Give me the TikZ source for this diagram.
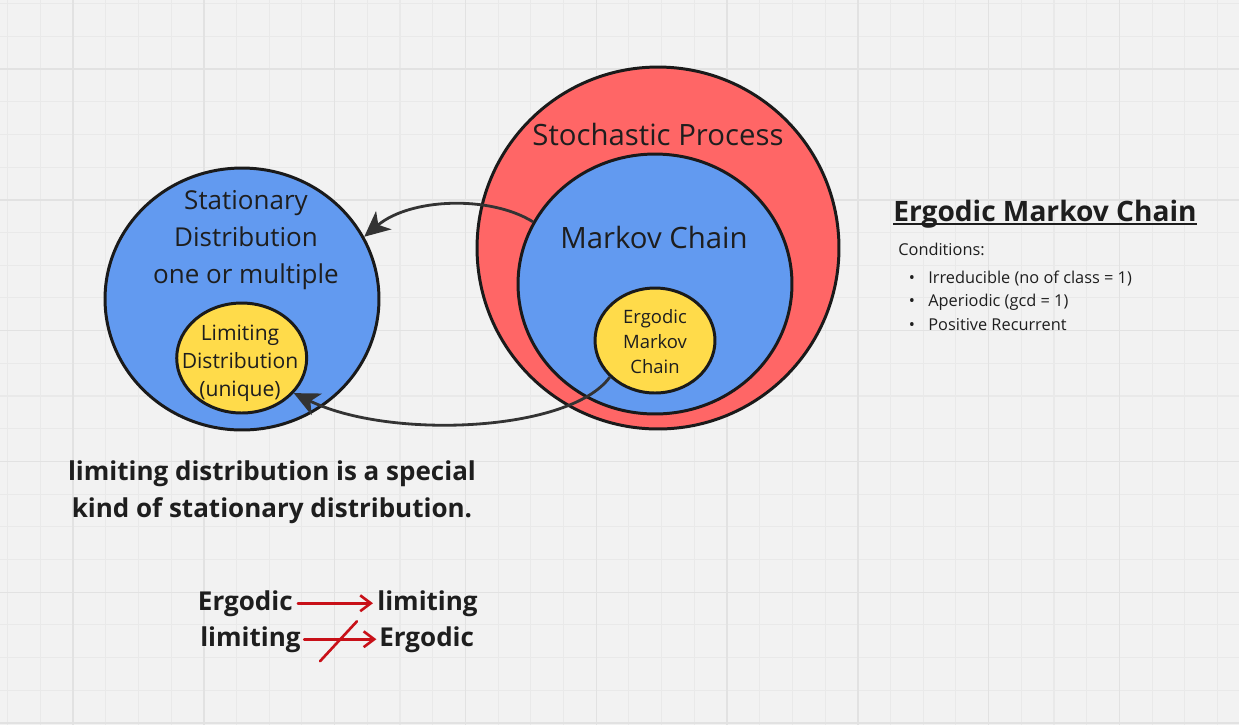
\documentclass[tikz,border=0pt]{standalone}
\usepackage{fontspec}
\setmainfont{Open Sans}
\usepackage{tikz}
\usetikzlibrary{arrows.meta, shapes.geometric, calc}
\definecolor{board-bg}{RGB}{242,242,242}
\definecolor{board-minor}{RGB}{233,233,233}
\definecolor{board-major}{RGB}{226,226,226}
\definecolor{set-red}{RGB}{255,102,102}
\definecolor{set-blue}{RGB}{98,154,240}
\definecolor{set-yellow}{RGB}{255,219,74}
\definecolor{set-line}{RGB}{26,26,26}
\definecolor{ink}{RGB}{30,30,30}
\definecolor{link-gray}{RGB}{51,51,51}
\definecolor{pen-red}{RGB}{200,16,24}

\begin{document}
\begin{tikzpicture}[x=0.02cm, y=-0.02cm, text=ink,
  setshape/.style={ellipse, draw=set-line, line width=1.7pt, inner sep=0pt},
  link/.style={draw=link-gray, line width=1.6pt,
    -{Stealth[length=14.5pt, width=13.5pt, inset=4pt]}},
  pen/.style={draw=pen-red, line width=1.5pt, line cap=round},
  bigtext/.style={font=\fontsize{16.7}{20}\selectfont},
  midtext/.style={font=\fontsize{14.8}{21}\selectfont, align=center},
  smalltext/.style={font=\fontsize{12}{15.9}\selectfont, align=center},
  tinytext/.style={font=\fontsize{10.5}{14.2}\selectfont, align=center},
  boldtext/.style={font=\fontsize{14.8}{21}\selectfont\bfseries, align=center},
  condtext/.style={font=\fontsize{9.3}{12}\selectfont, inner sep=0pt}]
  \useasboundingbox (0,0) rectangle (1239,725);

  % Fond quadrillé
  \fill[board-bg] (0,0) rectangle (1239,725);
  \foreach \k in {0,...,37}{
    \draw[board-minor, line width=0.6pt] ({7.6+32.7*\k},0) -- ++(0,725);
  }
  \foreach \k in {0,...,22}{
    \draw[board-minor, line width=0.6pt] (0,{3.6+32.7*\k}) -- ++(1239,0);
  }
  \foreach \k in {0,...,9}{
    \draw[board-major, line width=0.8pt] ({73+130.8*\k},0) -- ++(0,725);
  }
  \foreach \k in {0,...,5}{
    \draw[board-major, line width=0.8pt] (0,{69+130.8*\k}) -- ++(1239,0);
  }

  % Ensembles de droite
  \node[setshape, fill=set-red, minimum width=7.24cm, minimum height=7.24cm]
    (stoch) at (658,248) {};
  \node[setshape, fill=set-blue, minimum width=5.48cm, minimum height=5.2cm]
    (markov) at (655,284) {};
  \node[setshape, fill=set-yellow, minimum width=2.4cm, minimum height=2.1cm]
    (ergodic) at (655,340.5) {};
  \node[bigtext] (stochlab) at (658,134) {Stochastic Process};
  \node[bigtext] (markovlab) at (654,237) {Markov Chain};
  \node[tinytext] (ergodiclab) at (655,342) {Ergodic\\Markov\\Chain};

  % Ensembles de gauche
  \node[setshape, fill=set-blue, minimum width=5.48cm, minimum height=5.24cm]
    (stat) at (242,299) {};
  \node[setshape, fill=set-yellow, minimum width=2.6cm, minimum height=2.2cm]
    (limit) at (241.7,358) {};
  \node[midtext] (statlab) at (246,240)
    {Stationary\\Distribution\\one or multiple};
  \node[smalltext] (limitlab) at (240,363)
    {Limiting\\Distribution\\(unique)};

  % Liens
  \draw[link] (markov.153) .. controls (490,195) and (410,198) .. (stat.27);
  \draw[link] (ergodic.219) .. controls (570,432) and (390,440) .. (limit.-34);

  % Remarque
  \node[boldtext] (note) at (272,492)
    {limiting distribution is a special\\kind of stationary distribution.};

  % Implications
  \node[boldtext, inner sep=0pt, anchor=base east] (ergA) at (293,610) {Ergodic};
  \node[boldtext, inner sep=0pt, anchor=base west] (limA) at (377,610) {limiting};
  \node[boldtext, inner sep=0pt, anchor=base east] (limB) at (301,646) {limiting};
  \node[boldtext, inner sep=0pt, anchor=base west] (ergB) at (379,646) {Ergodic};
  \draw[pen, -{Straight Barb[length=6pt, width=9pt]},
    shorten <=2.8pt, shorten >=2.3pt] (ergA) -- (limA);
  \draw[pen, -{Straight Barb[length=6pt, width=9pt]},
    shorten <=1.8pt, shorten >=1.5pt] (limB) -- (ergB);
  \coordinate (notmid) at ($(limB.east)!0.5!(ergB.west)$);
  \draw[pen] (notmid) ++(-20,22) -- ++(37,-40);

  % Encadré Ergodic Markov Chain
  \node[font=\fontsize{16}{19}\selectfont\bfseries, inner sep=0pt,
    anchor=base west] (title) at (893,221) {Ergodic Markov Chain};
  \draw[ink, line width=1.2pt] ([yshift=-1.5pt]title.base west)
    -- ([yshift=-1.5pt]title.base east);
  \node[condtext, anchor=base west] (cond) at (898,255) {Conditions:};
  \foreach \i/\txt in {
    1/{Irreducible (no of class = 1)},
    2/{Aperiodic (gcd = 1)},
    3/{Positive Recurrent}}{
    \node[condtext, anchor=base] (bul\i) at (912,{283+23.7*(\i-1)}) {\textbullet};
    \node[condtext, anchor=base west] (item\i) at (928,{283+23.7*(\i-1)}) {\txt};
  }
\end{tikzpicture}
\end{document}
